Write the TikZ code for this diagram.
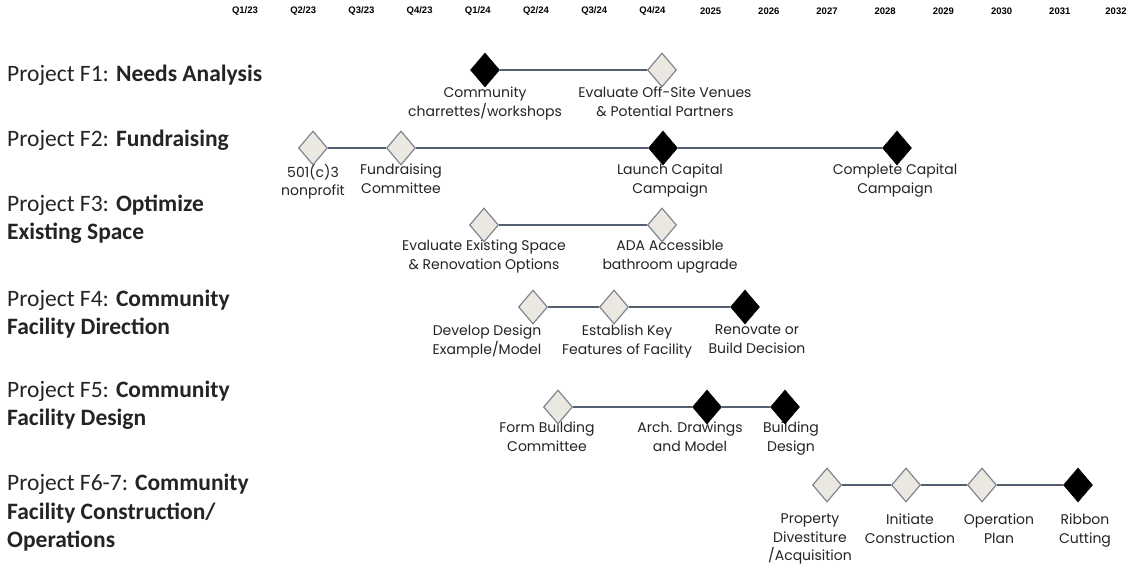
\documentclass[tikz,border=0pt]{standalone}
\usepackage{fontspec}
\setmainfont{Carlito}
\newfontfamily\gothicfont{Poppins}
\newfontfamily\headfont{Liberation Sans}
\usetikzlibrary{shapes.geometric}
\definecolor{linegray}{RGB}{84,96,114}
\definecolor{openfill}{RGB}{234,232,224}
\definecolor{openedge}{RGB}{128,134,146}
\definecolor{labelgray}{RGB}{36,36,36}
\tikzset{
  milestone/.style={diamond, inner sep=0pt, minimum width=29pt, minimum height=34pt},
  openstone/.style={milestone, draw=openedge, line width=1.2pt, fill=openfill},
  donestone/.style={milestone, draw=black, line width=0.6pt, fill=black},
  period/.style={inner sep=0pt, font=\headfont\bfseries\fontsize{9.5}{11}\selectfont},
  project/.style={anchor=west, align=left, inner sep=0pt, text=labelgray, font=\fontsize{23.5}{28.5}\selectfont},
  caption/.style={anchor=north, align=center, inner sep=0pt, text=labelgray, font=\gothicfont\fontsize{14}{18.5}\selectfont},
  link/.style={draw=linegray, line width=2pt}
}
\begin{document}
\begin{tikzpicture}[x=1pt, y=-1pt]
\useasboundingbox[fill=white] (0,0) rectangle (1130,569);
{

% Marking period Q1/23 .. 2032
\node [period] (q123) at (245.0,11) {Q1/23};%
\node [period] (q223) at (303.2,11) {Q2/23};%
\node [period] (q323) at (361.4,11) {Q3/23};%
\node [period] (q423) at (419.6,11) {Q4/23};%
\node [period] (q124) at (477.8,11) {Q1/24};%
\node [period] (q224) at (536.0,11) {Q2/24};%
\node [period] (q324) at (594.2,11) {Q3/24};%
\node [period] (q424) at (652.4,11) {Q4/24};%
\node [period] (y2025) at (710.6,11) {2025};%
\node [period] (y2026) at (768.8,11) {2026};%
\node [period] (y2027) at (827.0,11) {2027};%
\node [period] (y2028) at (885.2,11) {2028};%
\node [period] (y2029) at (943.4,11) {2029};%
\node [period] (y2030) at (1001.6,11) {2030};%
\node [period] (y2031) at (1059.8,11) {2031};%
\node [period] (y2032) at (1116.0,11) {2032};%

% Marking project F1
\node [project] (pf1) at (7,75) {Project F1: \textbf{Needs Analysis}};%

% Marking project F2
\node [project] (pf2) at (7,140) {Project F2: \textbf{Fundraising}};%

% Marking project F3
\node [project] (pf3) at (7,219) {Project F3: \textbf{Optimize}\\\textbf{Existing Space}};%

% Marking project F4
\node [project] (pf4) at (7,314) {Project F4: \textbf{Community}\\\textbf{Facility Direction}};%

% Marking project F5
\node [project] (pf5) at (7,405) {Project F5: \textbf{Community}\\\textbf{Facility Design}};%

% Marking project F6-7
\node [project] (pf6) at (7,513) {Project F6-7: \textbf{Community}\\\textbf{Facility Construction/}\\\textbf{Operations}};%

% Captions F1
\node [caption] (cf1a) at (485,87) {Community\\charrettes/workshops};%
\node [caption] (cf1b) at (665,87) {Evaluate Off-Site Venues\\\& Potential Partners};%

% Captions F2
\node [caption] (cf2a) at (313,164) {501(c)3\\nonprofit};%
\node [caption] (cf2b) at (401,164) {Fundraising\\Committee};%
\node [caption] (cf2c) at (670,164) {Launch Capital\\Campaign};%
\node [caption] (cf2d) at (895,164) {Complete Capital\\Campaign};%

% Captions F3
\node [caption] (cf3a) at (484,240) {Evaluate Existing Space\\\& Renovation Options};%
\node [caption] (cf3b) at (670,240) {ADA Accessible\\bathroom upgrade};%

% Captions F4
\node [caption] (cf4a) at (487,325) {Develop Design\\Example/Model};%
\node [caption] (cf4b) at (627,325) {Establish Key\\Features of Facility};%
\node [caption] (cf4c) at (757,325) {Renovate or\\Build Decision};%

% Captions F5
\node [caption] (cf5a) at (547,422) {Form Building\\Committee};%
\node [caption] (cf5b) at (690,422) {Arch. Drawings\\and Model};%
\node [caption] (cf5c) at (791,422) {Building\\Design};%

% Captions F6-7
\node [caption] (cf6a) at (810,514) {Property\\Divestiture\\/Acquisition};%
\node [caption] (cf6b) at (910,514) {Initiate\\Construction};%
\node [caption] (cf6c) at (999,514) {Operation\\Plan};%
\node [caption] (cf6d) at (1085,514) {Ribbon\\Cutting};%

% Milestones F1
\node [donestone] (mf1a) at (485,70) {};%
\node [openstone] (mf1b) at (662,70) {};%

% Milestones F2
\node [openstone] (mf2a) at (313,148) {};%
\node [openstone] (mf2b) at (401,148) {};%
\node [donestone] (mf2c) at (663,148) {};%
\node [donestone] (mf2d) at (897,148) {};%

% Milestones F3
\node [openstone] (mf3a) at (484,225) {};%
\node [openstone] (mf3b) at (662,225) {};%

% Milestones F4
\node [openstone] (mf4a) at (533,307) {};%
\node [openstone] (mf4b) at (614,307) {};%
\node [donestone] (mf4c) at (745,307) {};%

% Milestones F5
\node [openstone] (mf5a) at (558,407) {};%
\node [donestone] (mf5b) at (707,407) {};%
\node [donestone] (mf5c) at (785,407) {};%

% Milestones F6-7
\node [openstone] (mf6a) at (827,485) {};%
\node [openstone] (mf6b) at (906,485) {};%
\node [openstone] (mf6c) at (982,485) {};%
\node [donestone] (mf6d) at (1078,485) {};%

% Drawing links
\draw [link] (mf1a) -- (mf1b);%
\draw [link] (mf2a) -- (mf2b) -- (mf2c) -- (mf2d);%
\draw [link] (mf3a) -- (mf3b);%
\draw [link] (mf4a) -- (mf4b) -- (mf4c);%
\draw [link] (mf5a) -- (mf5b) -- (mf5c);%
\draw [link] (mf6a) -- (mf6b) -- (mf6c) -- (mf6d);%
}
\end{tikzpicture}
\end{document}
